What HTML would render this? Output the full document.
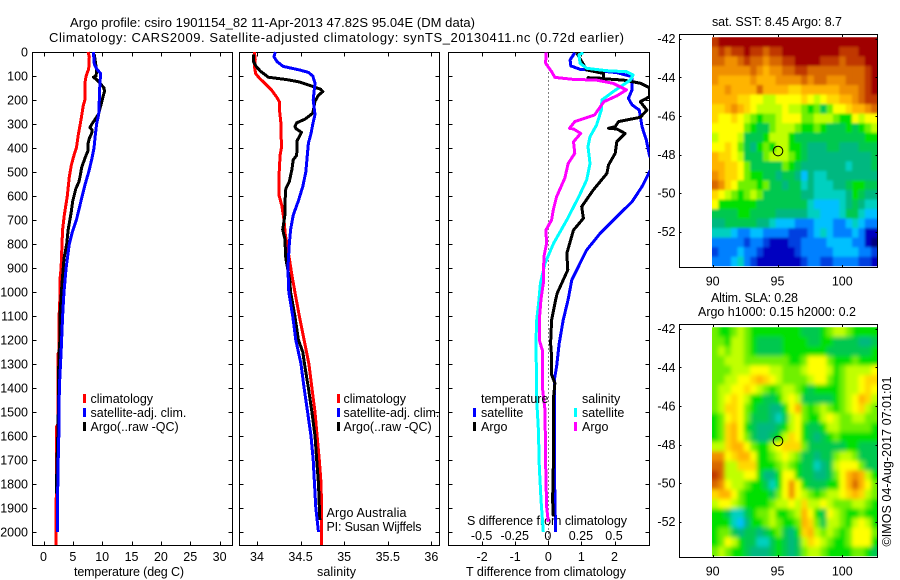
<!DOCTYPE html>
<html>
<head>
<meta charset="utf-8">
<title>Argo profile</title>
<style>
html,body{margin:0;padding:0;background:#fff}
svg{display:block}
text{font-family:"Liberation Sans",sans-serif;font-size:12.5px;fill:#000}
text.heading{font-size:13px}
</style>
</head>
<body>
<svg id="chart" xmlns="http://www.w3.org/2000/svg" width="900" height="580" viewBox="0 0 900 580">
<defs>
<clipPath id="clip-diff"><rect x="448.5" y="52" width="201" height="493"/></clipPath>
<clipPath id="clip-sst"><rect x="712" y="37.3" width="165.5" height="229"/></clipPath>
<clipPath id="clip-sla"><rect x="712" y="327.3" width="165.5" height="229"/></clipPath>
<filter id="sla-smooth" filterUnits="userSpaceOnUse" x="680" y="300" width="220" height="280"><feGaussianBlur stdDeviation="2.2"/></filter>
<filter id="sst-smooth" filterUnits="userSpaceOnUse" x="680" y="10" width="220" height="280"><feGaussianBlur stdDeviation="1.2"/></filter>
</defs>
<text class="heading" x="70" y="27" textLength="405">Argo profile: csiro 1901154_82 11-Apr-2013 47.82S 95.04E (DM data)</text>
<text class="heading" x="49" y="42" textLength="575">Climatology: CARS2009. Satellite-adjusted climatology: synTS_20130411.nc (0.72d earlier)</text>
<text x="74" y="576" textLength="110">temperature (deg C)</text>
<text x="317" y="576" textLength="39">salinity</text>
<text x="466" y="576" textLength="160">T difference from climatology</text>
<text x="467" y="525" textLength="160">S difference from climatology</text>
<text x="326.5" y="517" textLength="80">Argo Australia</text>
<text x="326.5" y="531" textLength="95">PI: Susan Wijffels</text>
<text x="712" y="26" textLength="130">sat. SST: 8.45 Argo: 8.7</text>
<text x="711" y="302" textLength="87">Altim. SLA: 0.28</text>
<text x="698" y="316" textLength="158">Argo h1000: 0.15 h2000: 0.2</text>
<text transform="translate(891,546.5) rotate(-90)" textLength="170">©IMOS 04-Aug-2017 07:01:01</text>
</svg>
<script>
// ---------- profile data (depth in m, temperature in deg C, salinity in psu) ----------
const depthTicks = [0,100,200,300,400,500,600,700,800,900,1000,1100,1200,1300,1400,1500,1600,1700,1800,1900,2000];
const temperatureTicks = [0,5,10,15,20,25,30];
const salinityTicks = [34,34.5,35,35.5,36];
const salinityTickLabels = ['34','34.5','35','35.5','36'];
const tDiffTicks = [-2,-1,0,1,2];
const tDiffTickLabels = ['-2','-1','0','1','2'];
const sDiffTicks = [-0.5,-0.25,0,0.25,0.5];
const sDiffTickLabels = ['-0.5','-0.25','0','0.25','0.5'];
const lonTicks = [90,95,100];
const latTicks = [-42,-44,-46,-48,-50,-52];

const tempClimDepth = [0,20,70,100,130,200,220,280,350,400,430,470,520,600,680,740,800,900,950,1000,1100,1250,1260,1550,1560,1850,1860,2055];
const tempClimValues = [7.6,7.8,7.7,7.25,7.05,7.05,6.8,6.4,5.9,5.6,5.2,4.75,4.4,4.05,3.55,3.25,3.15,3.0,2.8,2.85,2.65,2.6,2.45,2.45,2.25,2.25,2.15,2.15];
const tempSatDepth = [0,50,70,90,130,200,260,300,350,400,450,500,550,600,650,700,750,800,900,1000,1100,1250,1400,1550,1700,1850,2000];
const tempSatValues = [8.5,8.65,9.05,9.75,9.6,9.5,9.4,9.05,8.8,8.6,8.2,7.7,7.1,6.6,6.1,5.6,4.9,4.4,3.85,3.5,3.25,3.0,2.7,2.65,2.5,2.4,2.35];
const tempArgoDepth = [10,50,80,100,105,115,130,150,165,180,220,260,280,300,315,325,340,360,380,410,440,480,510,540,570,620,670,740,800,860,950,1000,1100,1200,1250,1350,1550,1700,1840];
const tempArgoValues = [8.65,8.9,9.05,8.95,8.5,9.05,9.6,10.3,10.4,10.2,9.8,9.35,8.8,8.25,7.9,8.3,8.2,7.8,7.6,7.6,7.1,6.5,6.3,6.05,5.5,5,4.7,4.2,3.95,3.5,3.2,3.05,2.8,2.8,2.65,2.55,2.5,2.3,2.2];

const salClimDepth = [0,30,60,90,110,130,160,190,210,250,300,400,430,500,600,640,700,760,860,930,1000,1100,1200,1300,1400,1500,1600,1700,1800,1900,2055];
const salClimValues = [33.97,33.98,33.97,33.985,34.03,34.09,34.17,34.23,34.26,34.26,34.275,34.28,34.265,34.255,34.255,34.285,34.31,34.325,34.37,34.4,34.435,34.485,34.54,34.595,34.63,34.665,34.69,34.715,34.735,34.74,34.74];
const salSatDepth = [0,20,40,60,75,85,100,130,200,260,300,340,380,440,500,560,620,680,740,800,900,1000,1100,1200,1300,1400,1500,1600,1700,1800,1900,2000];
const salSatValues = [34.21,34.195,34.23,34.3,34.49,34.59,34.64,34.665,34.645,34.665,34.64,34.62,34.59,34.575,34.56,34.525,34.475,34.415,34.385,34.37,34.355,34.365,34.41,34.445,34.505,34.54,34.58,34.62,34.645,34.66,34.675,34.705];
const salArgoDepth = [10,40,60,80,105,115,125,140,155,165,180,205,255,280,295,310,320,335,370,430,450,490,540,570,630,680,740,780,860,950,1000,1100,1200,1250,1300,1400,1500,1600,1700,1800,1950];
const salArgoValues = [33.96,33.96,33.99,34.04,34.13,34.34,34.49,34.61,34.73,34.755,34.705,34.665,34.64,34.55,34.455,34.435,34.45,34.51,34.46,34.455,34.415,34.4,34.37,34.33,34.32,34.32,34.295,34.32,34.33,34.375,34.385,34.435,34.475,34.525,34.545,34.59,34.63,34.665,34.685,34.705,34.72];

const diffTSatDepth = [3,33,58,72,78,86,103,158,193,220,242,311,367,433,465,499,561,624,686,755,825,880,950,1030,1117,1214,1311,1366,1727,2000];
const diffTSatValues = [0.8,0.66,0.68,0.96,1.46,2.07,2.53,2.53,2.42,2.53,2.75,2.83,2.96,3.06,3.2,3.06,2.83,2.53,2.07,1.57,1.16,0.96,0.71,0.6,0.45,0.33,0.25,0.18,0.18,0.22];
const diffTArgoDepth = [5,75,89,110,107,117,130,149,186,207,242,272,290,311,318,321,339,374,422,471,506,575,644,693,742,839,908,1005,1033,1117,1214,1269,1345,1380,1450,1727,1866,1935];
const diffTArgoValues = [0.86,1.16,1.67,1.67,1.2,2.27,2.78,3.06,3.06,2.78,2.98,2.78,2.12,2.02,1.82,2.07,2.32,2.07,2.02,1.82,1.77,1.36,1.01,1.06,0.76,0.56,0.59,0.27,0.22,0.1,0.07,0.1,0.1,0.2,0.15,0.15,0.13,0.15];
const diffSSatDepth = [3,12,47,68,78,82,96,117,165,200,242,304,353,394,464,533,603,700,797,881,964,1030,1117,1200,1450,1575,1727,1866,2000];
const diffSSatValues = [0.265,0.23,0.24,0.29,0.44,0.59,0.64,0.62,0.49,0.405,0.4,0.365,0.315,0.3,0.315,0.29,0.23,0.14,0.04,-0.025,-0.06,-0.07,-0.0875,-0.093,-0.0875,-0.075,-0.068,-0.055,-0.038];
const diffSArgoDepth = [3,47,82,106,114,117,131,158,182,207,262,290,318,321,339,374,422,464,526,603,658,700,742,797,853,964,1030,1117,1200,1242,1394,1491,1727,1894,1957];
const diffSArgoValues = [-0.018,-0.02,0.025,0.05,0.19,0.365,0.49,0.59,0.52,0.42,0.35,0.2,0.16,0.19,0.245,0.19,0.2,0.15,0.125,0.0625,0.0375,0.025,-0.018,-0.013,-0.033,-0.038,-0.055,-0.068,-0.068,-0.045,-0.045,-0.025,-0.02,-0.013,0];

const profileLon = [95.04];
const profileLat = [-47.82];

// ---------- map cell values (colour level 0..17, north to south) ----------
const sstCells = [
[16,17,17,17,17,17,17,17,17,17,17,17,17,17,17,17,17,17,17,17,17,17,17,17,17,17],
[15,16,15,16,16,17,16,16,15,16,16,17,17,17,17,17,17,17,17,17,16,16,16,17,17,17],
[15,15,14,14,15,16,15,15,14,15,15,16,16,17,17,17,17,16,16,16,15,16,16,16,17,17],
[14,14,14,14,14,14,15,14,13,14,14,15,15,16,16,15,15,15,15,15,15,15,15,15,16,17],
[14,13,13,13,13,13,14,13,13,13,14,14,14,14,15,14,15,15,14,14,14,15,15,15,16,17],
[13,13,14,13,13,13,13,15,13,13,13,13,12,12,13,13,13,13,13,13,14,14,14,15,16,17],
[13,13,13,13,12,12,11,11,10,10,11,11,11,11,12,11,10,11,12,12,13,13,14,15,16,16],
[12,12,13,14,13,12,11,10,10,10,10,11,10,10,9,8,9,7,9,11,11,12,13,13,14,15],
[12,11,11,12,11,10,9,8,9,9,10,11,11,11,9,9,10,10,10,9,8,8,11,10,11,11],
[11,11,11,11,11,9,8,7,7,9,10,10,10,9,8,8,9,8,7,7,7,8,7,8,9,10],
[10,11,11,11,10,7,7,7,8,10,10,10,8,7,7,7,7,7,7,7,7,7,7,7,8,8],
[11,11,12,11,9,7,6,8,9,8,10,10,8,8,7,6,6,6,7,7,6,6,6,7,7,7],
[13,12,12,11,10,7,7,7,9,10,10,10,9,8,7,6,6,6,6,6,6,6,6,6,6,7],
[13,13,12,12,11,9,7,7,7,7,7,9,8,7,6,6,6,6,6,6,6,5,6,6,6,7],
[14,13,12,12,11,9,8,8,7,7,6,7,7,6,4,6,5,5,6,6,6,6,6,6,6,6],
[15,14,12,11,9,9,9,8,9,7,7,6,7,7,5,6,5,5,5,6,6,7,8,8,7,7],
[12,11,10,9,8,9,10,9,7,7,7,7,7,7,6,6,5,5,5,5,5,6,8,7,6,6],
[11,8,8,8,8,8,8,7,7,7,7,7,7,7,7,5,4,4,4,4,5,6,7,6,5,5],
[7,7,7,7,8,8,7,7,7,7,6,6,6,6,6,5,5,4,4,4,5,7,7,5,4,4],
[6,6,7,7,7,7,7,6,6,5,4,4,4,3,3,3,4,4,4,3,3,4,5,4,3,3],
[5,5,5,4,3,3,4,4,3,3,3,3,2,2,2,3,4,5,4,3,3,3,4,3,1,1],
[3,3,3,3,3,2,3,3,2,1,1,1,2,2,3,3,3,3,4,4,4,4,3,3,1,0],
[2,3,3,3,4,3,3,2,1,1,1,1,1,2,3,3,3,3,3,4,4,4,4,3,3,2],
[3,3,3,4,5,3,2,1,1,1,1,1,1,1,2,3,3,2,2,3,3,3,3,2,2,1]
];
const slaCells = [
[9,8,8,9,10,9,8,8,8,8,8,8,8,8,7,7,7,8,9,10,10,9,8,8,8,8],
[9,9,8,10,10,9,8,7,7,7,7,8,8,8,8,7,7,8,8,7,7,7,7,6,6,7],
[9,10,9,10,10,9,8,7,7,7,7,8,8,8,8,8,8,8,7,7,7,7,7,7,7,8],
[9,9,10,10,10,9,9,9,9,9,9,9,8,8,9,11,11,11,9,8,8,8,9,8,8,8],
[9,9,9,10,10,10,11,11,11,10,10,9,9,9,10,11,11,11,10,8,9,10,10,10,10,11],
[9,9,10,10,11,11,12,13,12,11,10,9,9,9,9,10,11,11,9,8,9,10,10,11,12,12],
[9,10,10,11,11,12,11,10,9,8,9,10,10,9,8,7,8,8,8,8,9,10,10,11,12,11],
[9,10,11,12,11,10,8,8,7,7,8,10,11,10,7,7,7,7,7,8,9,10,11,13,12,10],
[9,10,12,12,11,9,8,7,7,6,6,8,11,13,9,8,9,10,9,8,9,10,11,12,10,9],
[8,9,11,12,11,9,7,7,7,6,5,7,10,11,9,8,8,10,11,10,9,9,10,10,9,9],
[8,9,12,13,11,8,7,6,6,6,7,8,10,11,8,7,7,8,10,10,9,9,9,9,9,8],
[8,9,12,13,11,9,7,6,6,7,8,10,12,11,8,7,6,7,8,9,8,8,8,8,8,8],
[10,10,12,13,13,11,9,8,8,10,11,12,12,12,9,7,7,7,7,7,7,8,8,7,7,7],
[14,14,11,12,13,13,11,8,8,9,10,11,10,9,7,7,6,7,7,9,10,10,9,7,7,7],
[15,15,10,10,12,12,12,8,8,8,9,10,9,8,7,7,5,6,7,10,11,11,11,9,7,7],
[16,15,10,10,10,11,11,8,6,6,8,11,11,8,7,7,6,6,7,9,11,13,14,13,10,8],
[15,14,11,10,10,9,8,8,7,5,8,11,14,11,8,7,7,7,8,8,11,13,15,13,11,9],
[12,13,13,11,9,8,8,8,8,7,9,11,14,11,10,9,8,9,10,10,11,12,13,12,10,9],
[10,11,11,10,9,8,8,8,8,9,10,10,11,10,12,10,10,11,10,9,9,9,10,10,9,8],
[8,8,7,5,5,7,8,9,9,10,8,8,9,10,13,11,8,7,11,10,9,8,8,9,8,8],
[8,8,8,5,4,6,8,8,9,10,9,8,8,9,13,12,9,7,10,10,9,8,10,11,10,8],
[8,9,9,7,6,7,7,6,7,8,9,7,6,8,12,13,10,9,10,9,8,9,11,11,11,9],
[8,9,11,10,8,7,7,5,5,7,8,7,6,7,10,12,11,10,9,8,8,9,11,11,11,8],
[9,10,9,8,8,7,6,6,6,7,8,7,6,7,9,10,10,9,8,8,8,8,9,9,8,7]
];

// ---------- drawing ----------
const svg = document.getElementById('chart');
const NS = 'http://www.w3.org/2000/svg';
function make(tag, attrs, parent) {
  const node = document.createElementNS(NS, tag);
  for (const k in attrs) node.setAttribute(k, attrs[k]);
  (parent || svg).appendChild(node);
  return node;
}

// axis functions
const yDepth = d => 52 + d * 0.24;
const xTemp = t => 43.5 + t * 5.87;
const xSal = s => 257 + (s - 34) * 87.17;
const xDiffT = t => 548.3 + t * 33.1;
const xDiffS = s => 548.3 + s * 4 * 33.1;
const xLon = lon => 712.7 + (lon - 90) * 12.96;
const yLatSst = lat => 38.7 + (-42 - lat) * 19.3;
const yLatSla = lat => 328.7 + (-42 - lat) * 19.3;

const levelColours = ['#00007f','#0000c0','#0040e0','#0080ff','#00c0ff','#00d0c0','#00b880','#00c850','#00e000','#70f000','#c0ff00','#ffff00','#ffd800','#ffb400','#f09000','#d86800','#c03800','#a00000'];
const levelColour = v => levelColours[Math.max(0, Math.min(levelColours.length - 1, Math.round(v)))];

function box(x0, x1, y0, y1, name) {
  const r = make('rect', {x:x0, y:y0, width:x1-x0, height:y1-y0, fill:'none', stroke:'#000', 'stroke-width':1, 'shape-rendering':'crispEdges'});
  
  
}
function tickLine(x1, y1, x2, y2, name) {
  const t = make('line', {x1, y1, x2, y2, stroke:'#000', 'stroke-width':1, 'shape-rendering':'crispEdges'});
  
  
}
function label(x, y, str, anchor, name) {
  const t = make('text', {x, y, 'text-anchor':anchor});
  t.textContent = str;
  
  
}
function profile(depths, values, xFn, colour, name, parent) {
  const pts = depths.map((d, i) => xFn(values[i]).toFixed(1) + ',' + yDepth(d).toFixed(1)).join(' ');
  const p = make('polyline', {points:pts, fill:'none', stroke:colour, 'stroke-width':3, 'stroke-linejoin':'round', 'shape-rendering':'crispEdges'}, parent);
  
  
}
function legendSwatch(x, y, colour, name) {
  const r = make('rect', {x, y, width:3, height:9, fill:colour, 'shape-rendering':'crispEdges'});
  
  
}

// left-hand panels
const panels = [
  {x0:32.5, x1:232.5, key:'temperature'},
  {x0:239.5, x1:439.5, key:'salinity'},
  {x0:448.5, x1:649.5, key:'difference'}
];
const yTop = 52.5, yBottom = 545.5;
panels.forEach(p => {
  box(p.x0, p.x1, yTop, yBottom, p.key + '-panel-frame');
  depthTicks.forEach(d => {
    const y = Math.round(yDepth(d)) + 0.5;
    tickLine(p.x0, y, p.x0 + 4, y, p.key + '-depth-tick-left');
    tickLine(p.x1 - 4, y, p.x1, y, p.key + '-depth-tick-right');
  });
});
depthTicks.forEach(d => {
  label(28, yDepth(d) + 4.5, String(d), 'end', 'depth-tick-label');
});
temperatureTicks.forEach(t => {
  const x = Math.round(xTemp(t)) + 0.5;
  tickLine(x, yTop, x, yTop + 4, 'temperature-tick-top');
  tickLine(x, yBottom - 4, x, yBottom, 'temperature-tick-bottom');
  label(xTemp(t), 561, String(t), 'middle', 'temperature-tick-label');
});
salinityTicks.forEach((s, i) => {
  const x = Math.round(xSal(s)) + 0.5;
  tickLine(x, yTop, x, yTop + 4, 'salinity-tick-top');
  tickLine(x, yBottom - 4, x, yBottom, 'salinity-tick-bottom');
  label(xSal(s), 561, salinityTickLabels[i], 'middle', 'salinity-tick-label');
});
tDiffTicks.forEach((t, i) => {
  const x = Math.round(xDiffT(t)) + 0.5;
  tickLine(x, yTop, x, yTop + 4, 't-difference-tick-top');
  tickLine(x, yBottom - 4, x, yBottom, 't-difference-tick-bottom');
  label(xDiffT(t), 561, tDiffTickLabels[i], 'middle', 't-difference-tick-label');
});
sDiffTicks.forEach((s, i) => {
  label(xDiffS(s) - 0.5, 540, sDiffTickLabels[i], 'middle', 's-difference-tick-label');
});

// zero-difference reference
const zeroLine = make('line', {x1:xDiffT(0), x2:xDiffT(0), y1:yTop, y2:yBottom, stroke:'#000', 'stroke-width':1, 'stroke-dasharray':'1 3', 'shape-rendering':'crispEdges'});



// series
profile(tempClimDepth, tempClimValues, xTemp, '#ff0000', 'temperature-climatology-line');
profile(tempArgoDepth, tempArgoValues, xTemp, '#000000', 'temperature-argo-line');
profile(tempSatDepth, tempSatValues, xTemp, '#0000ff', 'temperature-satellite-line');
profile(salClimDepth, salClimValues, xSal, '#ff0000', 'salinity-climatology-line');
profile(salArgoDepth, salArgoValues, xSal, '#000000', 'salinity-argo-line');
profile(salSatDepth, salSatValues, xSal, '#0000ff', 'salinity-satellite-line');

const diffGroup = make('g', {'clip-path':'url(#clip-diff)'});


profile(diffTSatDepth, diffTSatValues, xDiffT, '#0000ff', 'difference-t-satellite-line', diffGroup);
profile(diffTArgoDepth, diffTArgoValues, xDiffT, '#000000', 'difference-t-argo-line', diffGroup);
profile(diffSSatDepth, diffSSatValues, xDiffS, '#00ffff', 'difference-s-satellite-line', diffGroup);
profile(diffSArgoDepth, diffSArgoValues, xDiffS, '#ff00ff', 'difference-s-argo-line', diffGroup);

// legends
[{sx:83, tx:90.5, key:'temperature'}, {sx:337, tx:343.5, key:'salinity'}].forEach(l => {
  legendSwatch(l.sx, 394, '#ff0000', l.key + '-legend-climatology-swatch');
  legendSwatch(l.sx, 408, '#0000ff', l.key + '-legend-satellite-swatch');
  legendSwatch(l.sx, 422, '#000000', l.key + '-legend-argo-swatch');
  label(l.tx, 403, 'climatology', 'start', l.key + '-legend-climatology-label');
  label(l.tx, 417, 'satellite-adj. clim.', 'start', l.key + '-legend-satellite-label');
  label(l.tx, 431, 'Argo(..raw -QC)', 'start', l.key + '-legend-argo-label');
});
label(481, 403, 'temperature', 'start', 'difference-legend-temperature-heading');
label(481, 417, 'satellite', 'start', 'difference-legend-t-satellite-label');
label(481, 431, 'Argo', 'start', 'difference-legend-t-argo-label');
label(582, 403, 'salinity', 'start', 'difference-legend-salinity-heading');
label(582, 417, 'satellite', 'start', 'difference-legend-s-satellite-label');
label(582, 431, 'Argo', 'start', 'difference-legend-s-argo-label');
legendSwatch(473, 408, '#0000ff', 'difference-legend-t-satellite-swatch');
legendSwatch(473, 422, '#000000', 'difference-legend-t-argo-swatch');
legendSwatch(574, 408, '#00ffff', 'difference-legend-s-satellite-swatch');
legendSwatch(574, 422, '#ff00ff', 'difference-legend-s-argo-swatch');

// maps
function drawMap(cells, top, yLat, clipId, filterId, key) {
  const imgLeft = 712, imgWidth = 165.5, imgHeight = 229;
  const outer = make('g', {'clip-path':'url(#' + clipId + ')'});
  
  
  const inner = make('g', {filter:'url(#' + filterId + ')'}, outer);
  const rows = cells.length, cols = cells[0].length;
  const cw = imgWidth / cols, ch = imgHeight / rows;
  cells.forEach((row, r) => row.forEach((v, c) => {
    const pad = 14;
    const x0 = imgLeft + c * cw - (c === 0 ? pad : 0);
    const x1 = imgLeft + (c + 1) * cw + (c === cols - 1 ? pad : 0);
    const y0 = top + r * ch - (r === 0 ? pad : 0);
    const y1 = top + (r + 1) * ch + (r === rows - 1 ? pad : 0);
    const cell = make('rect', {x:x0.toFixed(2), y:y0.toFixed(2), width:(x1 - x0 + 0.4).toFixed(2), height:(y1 - y0 + 0.4).toFixed(2), fill:levelColour(v)}, inner);
    
    
  }));
  const x0 = 679.5, x1 = 877.5, yT = top - 3, yB = top + imgHeight + 0.7;
  box(x0, x1, Math.floor(yT) + 0.5, Math.floor(yB) + 0.5, key + '-map-frame');
  lonTicks.forEach(lon => {
    const x = Math.round(xLon(lon)) + 0.5;
    tickLine(x, Math.floor(yT), x, Math.floor(yT) + 3, key + '-map-lon-tick');
    tickLine(x, Math.floor(yB) - 2, x, Math.floor(yB), key + '-map-lon-tick');
    label(xLon(lon), Math.floor(yB) + 18.5, String(lon), 'middle', key + '-map-lon-label');
  });
  latTicks.forEach(lat => {
    const y = Math.round(yLat(lat)) + 0.5;
    tickLine(x0, y, x0 + 2, y, key + '-map-lat-tick');
    tickLine(x1 - 2, y, x1, y, key + '-map-lat-tick');
    label(675.5, yLat(lat) + 4.5, String(lat), 'end', key + '-map-lat-label');
  });
  const marker = make('circle', {cx:xLon(profileLon[0]), cy:yLat(profileLat[0]), r:4.8, fill:'none', stroke:'#000', 'stroke-width':1});
  
  
}
drawMap(sstCells, 37.3, yLatSst, 'clip-sst', 'sst-smooth', 'sst');
drawMap(slaCells, 327.3, yLatSla, 'clip-sla', 'sla-smooth', 'sla');
</script>
</body>
</html>
